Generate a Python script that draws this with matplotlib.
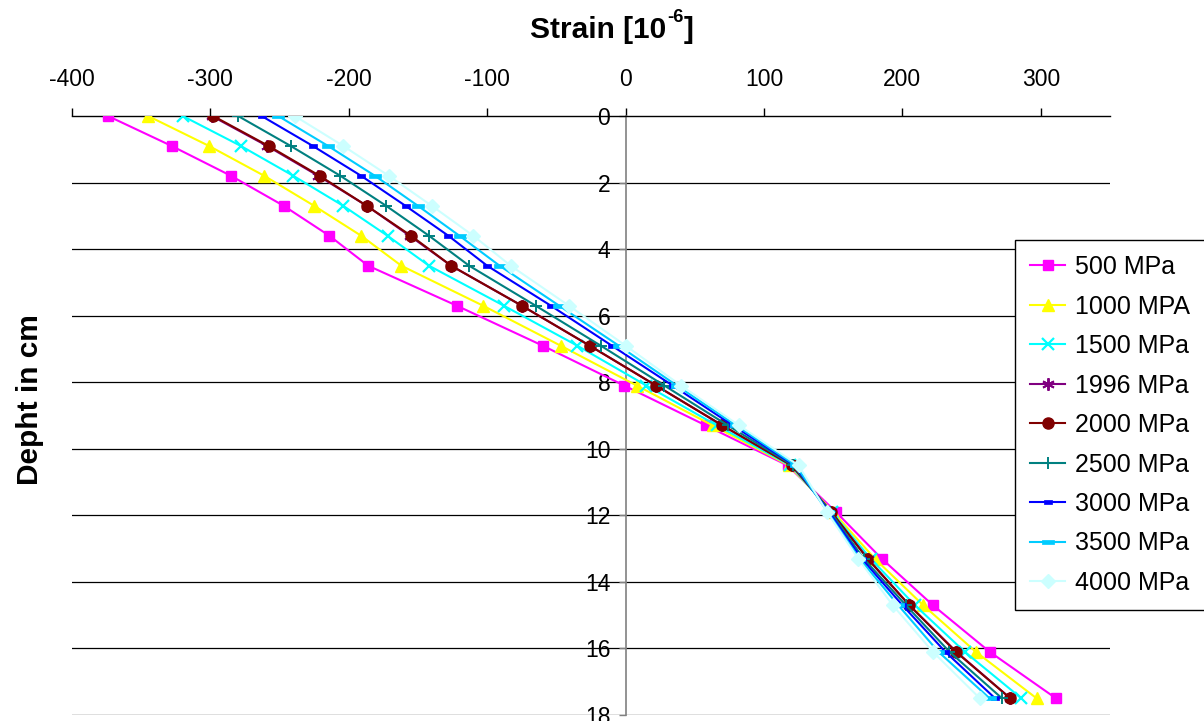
import matplotlib
matplotlib.use("Agg")
import matplotlib.pyplot as plt
from matplotlib.transforms import offset_copy
import numpy as np

plt.rcParams['font.family'] = ['Liberation Sans', 'DejaVu Sans']

depth = [0, 0.9, 1.8, 2.7, 3.6, 4.5, 5.7, 6.9, 8.1, 9.3, 10.5, 11.9, 13.3, 14.7, 16.1, 17.5]

s500 = [-374, -328, -285, -247, -214, -186, -122, -60, -1, 58, 117, 152, 185, 222, 263, 311]
s1000 = [-345, -301, -261, -225, -191, -162, -103, -47, 8, 63, 118, 150, 180, 215, 253, 297]
s1500 = [-320, -278, -240, -204, -172, -142, -88, -35, 15, 66, 119, 149, 177, 209, 245, 286]
s1996 = [-299, -259, -222, -187, -156, -126, -75, -26, 22, 70, 120, 148.5, 175, 205, 239, 278]
s2000 = [-298, -258, -221, -187, -155, -126, -75, -26, 22, 70, 120, 148.7, 174.7, 205, 238.6, 278]
s2500 = [-280, -242, -206, -173, -142, -113, -65, -18, 28, 74, 121, 148, 172, 202.5, 234, 272]
s3000 = [-263, -226, -191, -159, -128, -100, -54, -10, 34, 77.6, 122, 147, 170.5, 200, 231, 267]
s3500 = [-251, -215, -181, -150, -120, -91, -48, -5, 37, 80, 123, 146, 169, 197, 226, 263]
s4000 = [-239, -204, -171, -140, -110, -83, -41, 0, 40, 82, 125, 145.5, 168, 193, 222, 256]

labels = ["500 MPa", "1000 MPA", "1500 MPa", "1996 MPa", "2000 MPa",
          "2500 MPa", "3000 MPa", "3500 MPa", "4000 MPa"]
series = [s500, s1000, s1500, s1996, s2000, s2500, s3000, s3500, s4000]

xticks = [-400, -300, -200, -100, 0, 100, 200, 300]
yticks = [0, 2, 4, 6, 8, 10, 12, 14, 16, 18]

short_dash = [(-1, -0.45), (1, -0.45), (1, 0.45), (-1, 0.45), (-1, -0.45)]
long_dash = [(-1, -0.3), (1, -0.3), (1, 0.3), (-1, 0.3), (-1, -0.3)]

styles = [
    dict(color='#FF00FF', marker='s', ms=7.5, mfc='#FF00FF', mec='#FF00FF'),
    dict(color='#FFFF00', marker='^', ms=8.5, mfc='#FFFF00', mec='#FFFF00'),
    dict(color='#00FFFF', marker='x', ms=8, mew=1.6),
    dict(color='#800080', marker=(6, 2, 0), ms=9, mew=1.4),
    dict(color='#800000', marker='o', ms=8, mfc='#800000', mec='#800000'),
    dict(color='#008080', marker='+', ms=9, mew=1.4),
    dict(color='#0000FF', marker=short_dash, ms=6, mfc='#0000FF', mec='#0000FF', mew=0.5),
    dict(color='#00CCFF', marker=long_dash, ms=9, mfc='#00CCFF', mec='#00CCFF', mew=0.5),
    dict(color='#CCFFFF', marker='D', ms=7, mfc='#CCFFFF', mec='#CCFFFF'),
]

fig = plt.figure(figsize=(12.04, 7.21), dpi=100)
ax = fig.add_axes([72/1204, 1 - 715/721, (1110 - 72)/1204, (715 - 116)/721])

for vals, lab, st in zip(series, labels, styles):
    ax.plot(vals, depth, label=lab, lw=1.5, zorder=3, **st)

ax.set_xlim(-400, 350)
ax.set_ylim(18, 0)

for y in yticks[1:]:
    ax.axhline(y, color='black', lw=0.9, zorder=1)

ax.spines['bottom'].set_visible(False)
ax.spines['right'].set_visible(False)
ax.spines['left'].set_position(('data', 0))
ax.spines['left'].set_color('#808080')
ax.spines['left'].set_linewidth(1.2)
ax.spines['top'].set_color('black')
ax.spines['top'].set_linewidth(1.0)

ax.xaxis.tick_top()
ax.set_xticks(xticks)
ax.set_xticklabels([str(v) for v in xticks])
ax.tick_params(axis='x', direction='out', length=6, width=1, pad=12, labelsize=16.5)
ax.set_yticks(yticks)
ax.set_yticklabels([str(v) for v in yticks])
ax.tick_params(axis='y', direction='out', length=5, width=1, color='#808080', pad=6, labelsize=16.5)

# Title with superscript "-6" (hyphen), built from pieces
renderer = fig.canvas.get_renderer()
tfs = 21.5
ty = 1 - 30/721
t1 = fig.text(530/1204, ty, 'Strain [10', ha='left', va='center',
              fontsize=tfs, fontweight='bold')
bb = t1.get_window_extent(renderer)
x1 = bb.x1 / fig.bbox.width
t2 = fig.text(x1, ty, '-6', ha='left', va='center', fontsize=tfs * 0.62,
              fontweight='bold',
              transform=offset_copy(fig.transFigure, fig=fig, x=0.5, y=9, units='points'))
bb2 = t2.get_window_extent(renderer)
x2 = bb2.x1 / fig.bbox.width
fig.text(x2, ty, ']', ha='left', va='center', fontsize=tfs, fontweight='bold',
         transform=offset_copy(fig.transFigure, fig=fig, x=0.5, y=0, units='points'))

fig.text(30/1204, 1 - 400/721, 'Depht in cm', ha='center', va='center', rotation=90,
         fontsize=21.5, fontweight='bold')

leg = ax.legend(loc='upper left', bbox_to_anchor=(1015/1204, 1 - 240/721),
                bbox_transform=fig.transFigure, fontsize=18, frameon=True, fancybox=False,
                edgecolor='black', framealpha=1, handlelength=1.4, handletextpad=0.4,
                labelspacing=0.62, borderpad=0.6, borderaxespad=0)
leg.get_frame().set_linewidth(1.0)
leg.set_zorder(5)

fig.savefig('out.png', dpi=100)
